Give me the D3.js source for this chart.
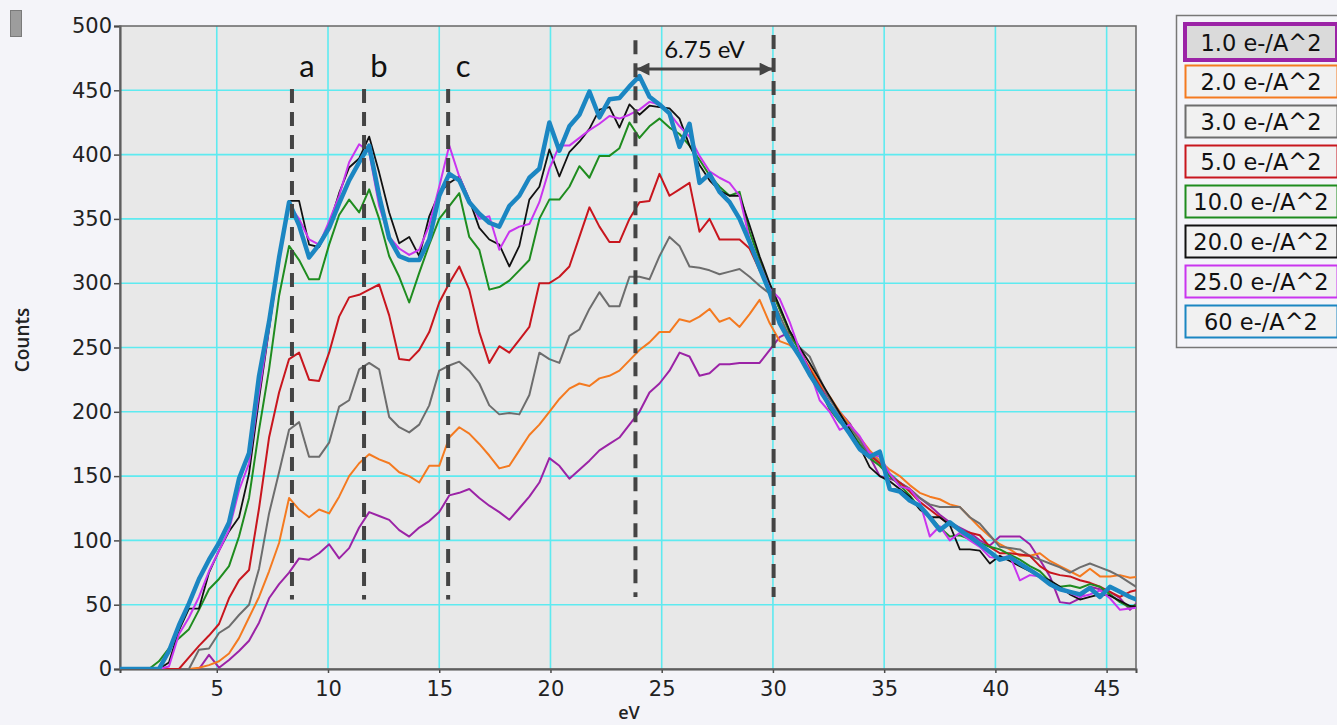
<!DOCTYPE html>
<html>
<head>
<meta charset="utf-8">
<script src="https://cdn.jsdelivr.net/npm/d3@7"></script>
<style>
  body { margin: 0; background: #f4f4f9; }
  svg { display: block; }
</style>
</head>
<body>
<svg></svg>
<script>
const width = 1337;
const height = 725;

// energy loss grid (eV), instrument step ~0.45 eV
const eV = [0.6,1.05,1.5,1.95,2.4,2.85,3.3,3.75,4.2,4.65,
  5.1,5.55,6.0,6.45,6.9,7.35,7.8,8.25,8.7,9.15,
  9.6,10.05,10.5,10.95,11.4,11.85,12.3,12.75,13.2,13.65,
  14.1,14.55,15.0,15.45,15.9,16.35,16.8,17.25,17.7,18.15,
  18.6,19.05,19.5,19.95,20.4,20.85,21.3,21.75,22.2,22.65,
  23.1,23.55,24.0,24.45,24.9,25.35,25.8,26.25,26.7,27.15,
  27.6,28.05,28.5,28.95,29.4,29.85,30.3,30.75,31.2,31.65,
  32.1,32.55,33.0,33.45,33.9,34.35,34.8,35.25,35.7,36.15,
  36.6,37.05,37.5,37.95,38.4,38.85,39.3,39.75,40.2,40.65,
  41.1,41.55,42.0,42.45,42.9,43.35,43.8,44.25,44.7,45.15,
  45.6,46.05,46.5];

// counts per dose
const dose1 = [0,0,0,0,0,0,0,0,0,11,
  1,7,14,22,36,55,66,75,86,85,
  90,97,86,94,110,122,119,116,108,103,
  110,115,122,135,137,140,133,127,122,116,
  125,134,145,164,158,148,155,162,170,175,
  180,190,200,215,222,232,246,243,228,230,
  237,237,238,238,238,248,258,262,248,233,
  222,210,200,191,178,165,150,148,145,140,
  133,127,120,114,110,106,100,96,103,103,
  103,97,85,72,52,51,55,64,62,60,
  55,46,54];
const dose2 = [0,0,0,0,0,0,0,0,1,3,
  6,12,24,40,56,76,98,133,124,118,
  124,121,134,150,160,167,163,160,153,150,
  145,158,158,180,188,183,175,166,156,158,
  170,182,190,200,210,218,222,220,226,228,
  232,240,248,254,262,262,272,270,274,280,
  270,273,266,276,287,269,255,252,245,235,
  222,212,200,190,180,170,162,155,150,143,
  137,134,132,128,126,118,110,103,97,93,
  88,88,90,84,80,76,72,78,72,72,
  73,71,72];
const dose3 = [0,0,0,0,0,0,0,0,15,16,
  28,33,42,50,78,121,153,186,192,165,
  165,176,204,209,233,238,233,196,188,184,
  190,205,232,236,239,232,222,205,198,199,
  198,213,246,241,238,259,264,280,293,282,
  282,305,305,303,321,336,329,313,312,310,
  307,309,311,305,298,292,275,258,250,243,
  226,210,198,188,178,168,160,152,145,140,
  133,128,126,126,126,118,113,104,95,94,
  93,88,85,82,79,75,79,82,79,76,
  72,67,62];
const dose5 = [0,0,0,0,0,0,0,9,18,26,
  35,55,69,77,125,180,215,241,246,225,
  224,246,274,289,291,295,299,275,241,240,
  248,262,285,300,313,295,262,238,251,246,
  256,266,300,300,305,313,336,359,344,332,
  332,350,363,364,385,368,373,378,340,350,
  334,334,334,327,310,298,280,262,248,233,
  220,206,194,183,172,166,160,150,145,138,
  130,124,118,112,108,106,104,95,90,90,
  89,88,80,75,73,72,69,67,64,60,
  56,60,62];
const dose10 = [0,0,0,0,6,16,24,31,46,62,
  70,80,103,133,186,233,290,329,318,303,
  303,330,353,365,355,373,350,321,305,285,
  308,330,350,360,370,336,326,295,297,302,
  310,318,350,365,365,375,391,382,399,399,
  405,425,413,422,428,421,416,407,396,384,
  375,368,371,340,318,298,280,262,247,232,
  218,202,192,186,175,164,158,150,143,135,
  125,119,110,103,104,101,98,95,93,89,
  85,80,76,68,64,65,63,66,64,58,
  52,48,51];
const dose20 = [0,0,0,0,0,5,30,47,47,75,
  92,107,118,152,210,264,320,364,364,330,
  328,345,370,390,397,414,386,355,331,336,
  321,352,370,378,383,365,343,334,330,313,
  329,365,375,404,383,402,410,420,435,437,
  421,439,431,438,437,436,428,407,392,380,
  372,368,368,345,321,300,282,263,250,238,
  225,212,199,186,173,157,150,146,140,134,
  124,118,118,112,93,93,92,82,88,84,
  80,76,72,69,64,58,54,56,58,57,
  53,49,48];
const dose25 = [0,0,0,0,0,2,27,40,56,76,
  92,108,139,160,215,265,318,361,350,334,
  330,348,368,394,408,402,360,336,327,322,
  326,345,375,407,383,365,350,352,326,340,
  344,346,363,389,407,407,413,419,424,430,
  428,431,435,441,439,432,422,414,399,387,
  382,378,368,334,315,296,288,270,248,232,
  209,200,186,190,181,168,165,152,142,140,
  130,103,111,100,106,100,95,87,86,88,
  69,73,72,67,62,59,56,58,61,55,
  46,47,48];
const dose60 = [0,0,0,0,0,14,34,51,70,85,
  98,114,148,168,228,270,320,363,345,320,
  330,343,362,380,394,407,368,335,321,318,
  318,334,368,385,380,363,354,347,344,360,
  368,382,389,425,403,422,431,449,429,443,
  444,453,461,445,439,432,406,424,378,385,
  371,363,350,332,312,293,269,255,243,229,
  217,205,194,183,171,165,169,140,138,131,
  127,118,108,114,108,103,97,91,85,87,
  82,77,72,66,62,60,58,63,56,64,
  60,56,53];

const seriesNames = ["1.0 e-/A^2", "2.0 e-/A^2", "3.0 e-/A^2", "5.0 e-/A^2",
  "10.0 e-/A^2", "20.0 e-/A^2", "25.0 e-/A^2", "60 e-/A^2"];
const seriesValues = [dose1, dose2, dose3, dose5, dose10, dose20, dose25, dose60];
const seriesColors = ["#9b23a6", "#f47a20", "#6d6d6d", "#c8161e",
  "#1f8c1f", "#111111", "#c935ef", "#1b86c2"];

const xTicks = [5, 10, 15, 20, 25, 30, 35, 40, 45];
const yTicks = [0, 50, 100, 150, 200, 250, 300, 350, 400, 450, 500];

// dashed markers: a, b, c (peaks) and the 6.75 eV pair
const peakLabels = ["a", "b", "c"];
const peakEV = [8.38, 11.62, 15.4];
const shiftEV = [23.82, 30.03];
const shiftLabel = "6.75 eV";

const svg = d3.select("svg")
  .attr("width", width)
  .attr("height", height);

svg.append("rect")
  .attr("width", width).attr("height", height)
  .attr("fill", "#f4f4f9");

// petit bouton gris en haut a gauche
svg.append("rect")
  .attr("x", 10.5).attr("y", 10.5).attr("width", 11).attr("height", 26)
  .attr("fill", "#9d9d9d").attr("stroke", "#7a7a7a");

const x = d3.scaleLinear().domain([0.65, 46.32]).range([120, 1136]);
const y = d3.scaleLinear().domain([0, 500]).range([669, 26]);

// fond du graphe
svg.append("rect")
  .attr("x", x.range()[0]).attr("y", y.range()[1])
  .attr("width", x.range()[1] - x.range()[0])
  .attr("height", y.range()[0] - y.range()[1])
  .attr("fill", "#e8e8e8");

svg.append("clipPath").attr("id", "plot")
  .append("rect")
  .attr("x", x.range()[0]).attr("y", y.range()[1])
  .attr("width", x.range()[1] - x.range()[0])
  .attr("height", y.range()[0] - y.range()[1]);

// grille cyan
const grid = svg.append("g");
grid.selectAll(".vx").data(xTicks).enter().append("line")
  .attr("x1", d => x(d)).attr("x2", d => x(d))
  .attr("y1", y.range()[0]).attr("y2", y.range()[1])
  .attr("stroke", "#5eeaf0").attr("stroke-width", 1.6);
grid.selectAll(".hy").data(yTicks.slice(1, -1)).enter().append("line")
  .attr("x1", x.range()[0]).attr("x2", x.range()[1])
  .attr("y1", d => y(d)).attr("y2", d => y(d))
  .attr("stroke", "#5eeaf0").attr("stroke-width", 1.6);

// axes
const xAxis = svg.append("g")
  .attr("transform", `translate(0,${y.range()[0]})`)
  .call(d3.axisBottom(x).tickValues(xTicks).tickSize(4).tickPadding(8));
const yAxis = svg.append("g")
  .attr("transform", `translate(${x.range()[0]},0)`)
  .call(d3.axisLeft(y).tickValues(yTicks).tickSize(6).tickPadding(2));

[xAxis, yAxis].forEach(g => {
  g.select(".domain").attr("stroke", "#4a4a4a").attr("stroke-width", 2);
  g.selectAll(".tick line").attr("stroke", "#4a4a4a").attr("stroke-width", 1.5);
  g.selectAll("text")
    .attr("fill", "#222")
    .style("font-family", "'DejaVu Sans', sans-serif")
    .style("font-size", "21px");
});

// cadre
svg.append("rect")
  .attr("x", x.range()[0]).attr("y", y.range()[1])
  .attr("width", x.range()[1] - x.range()[0])
  .attr("height", y.range()[0] - y.range()[1])
  .attr("fill", "none").attr("stroke", "#666").attr("stroke-width", 1.5);

svg.append("text")
  .attr("x", (x.range()[0] + x.range()[1]) / 2 + 1)
  .attr("y", 719)
  .attr("text-anchor", "middle")
  .style("font-family", "'Open Sans', sans-serif")
  .style("font-weight", 600)
  .style("font-size", "18px")
  .attr("fill", "#222")
  .text("eV");

svg.append("text")
  .attr("transform", "translate(29,340) rotate(-90)")
  .attr("text-anchor", "middle")
  .style("font-family", "'Open Sans', sans-serif")
  .style("font-weight", 600)
  .style("font-size", "19px")
  .attr("fill", "#222")
  .text("Counts");

// courbes
const line = d3.line()
  .x((d, i) => x(eV[i]))
  .y(d => y(d));

const curves = svg.append("g").attr("clip-path", "url(#plot)");

function drawSeries(k) {
  curves.append("path")
    .attr("d", line(seriesValues[k]))
    .attr("fill", "none")
    .attr("stroke", seriesColors[k])
    .attr("stroke-width", k === 7 ? 4.5 : (k === 5 ? 1.8 : 2))
    .attr("stroke-linejoin", "round");
}

for (let k = 0; k < 7; k++) drawSeries(k);

// lignes pointillees
const dashColor = "#444";
const dashes = svg.append("g");
peakEV.forEach(v => {
  dashes.append("line")
    .attr("x1", x(v)).attr("x2", x(v))
    .attr("y1", y(451)).attr("y2", y(54))
    .attr("stroke", dashColor).attr("stroke-width", 4)
    .attr("stroke-dasharray", "14,9");
});
shiftEV.forEach((v, i) => {
  dashes.append("line")
    .attr("x1", x(v)).attr("x2", x(v))
    .attr("y1", y(i === 0 ? 489 : 493)).attr("y2", y(56))
    .attr("stroke", dashColor).attr("stroke-width", 4)
    .attr("stroke-dasharray", "14,9");
});

drawSeries(7);

// etiquettes a, b, c
svg.selectAll(".peak").data(peakLabels).enter().append("text")
  .attr("x", (d, i) => x(peakEV[i]) + 15)
  .attr("y", 77)
  .attr("text-anchor", "middle")
  .style("font-family", "Lato, 'Open Sans', sans-serif")
  .style("font-size", "31px")
  .attr("fill", "#111")
  .text(d => d);

// fleche 6.75 eV
svg.append("defs").append("marker")
  .attr("id", "head")
  .attr("viewBox", "0 0 10 10")
  .attr("refX", 10).attr("refY", 5)
  .attr("markerWidth", 15).attr("markerHeight", 13)
  .attr("markerUnits", "userSpaceOnUse")
  .attr("orient", "auto-start-reverse")
  .append("path")
  .attr("d", "M0,0L10,5L0,10Z")
  .attr("fill", "#444");

svg.append("line")
  .attr("x1", x(shiftEV[0]) + 1).attr("x2", x(shiftEV[1]) - 1)
  .attr("y1", y(466.5)).attr("y2", y(466.5))
  .attr("stroke", "#444").attr("stroke-width", 3)
  .attr("marker-start", "url(#head)")
  .attr("marker-end", "url(#head)");

svg.append("text")
  .attr("x", (x(shiftEV[0]) + x(shiftEV[1])) / 2)
  .attr("y", 58)
  .attr("text-anchor", "middle")
  .style("font-family", "Lato, 'Open Sans', sans-serif")
  .style("font-size", "24px")
  .attr("fill", "#111")
  .text(shiftLabel);

// legende
const legend = svg.append("g");
legend.append("rect")
  .attr("x", 1176.5).attr("y", 15.5).attr("width", 170).attr("height", 332)
  .attr("fill", "#f4f4f9").attr("stroke", "#777").attr("stroke-width", 1.5);

const items = legend.selectAll(".item").data(seriesNames).enter().append("g");
items.append("rect")
  .attr("x", (d, i) => i === 0 ? 1185 : 1185.5)
  .attr("y", (d, i) => i === 0 ? 24 : 25.5 + 40 * i)
  .attr("width", 152)
  .attr("height", (d, i) => i === 0 ? 36 : 32)
  .attr("fill", (d, i) => i === 0 ? "#dadada" : "#f1f1f1")
  .attr("stroke", (d, i) => seriesColors[i])
  .attr("stroke-width", (d, i) => i === 0 ? 4 : 2);
items.append("text")
  .attr("x", 1261)
  .attr("y", (d, i) => i === 0 ? 50.5 : 50 + 40 * i)
  .attr("text-anchor", "middle")
  .style("font-family", "'DejaVu Sans', sans-serif")
  .style("font-size", "22.5px")
  .attr("fill", "#111")
  .text(d => d);
</script>
</body>
</html>
